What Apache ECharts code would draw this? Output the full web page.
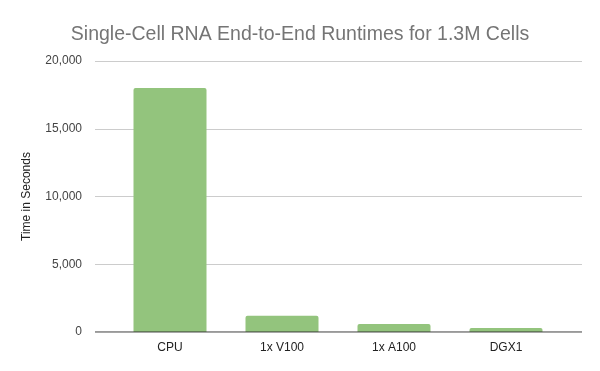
<!DOCTYPE html>
<html><head><meta charset="utf-8">
<script src="https://cdn.jsdelivr.net/npm/echarts@6/dist/echarts.min.js"></script>
<style>html,body{margin:0;padding:0;background:#fff}#c{width:600px;height:371px}</style>
</head><body><div id="c"></div>
<script>
const categories = ["CPU", "1x V100", "1x A100", "DGX1"];
const runtimes = [18000, 1200, 590, 300];
const yTicks = [0, 5000, 10000, 15000, 20000];

const FONT = '"Liberation Sans", Arial, sans-serif';
const chart = echarts.init(document.getElementById('c'));
chart.setOption({
  animation: false,
  title: {
    text: 'Single-Cell RNA End-to-End Runtimes for 1.3M Cells',
    left: 'center', top: 20,
    textStyle: { fontFamily: FONT, fontSize: 19.5, fontWeight: 'normal', color: '#757575' }
  },
  grid: [
    { left: 95, right: 18, top: 61, bottom: 39 },
    { left: 114, right: 38, top: 61, bottom: 39 }
  ],
  xAxis: [
    { type: 'value', gridIndex: 0, min: 0, max: 1, show: false },
    { type: 'category', gridIndex: 1, data: categories,
      axisLine: { show: false }, axisTick: { show: false },
      axisLabel: { color: '#222', fontFamily: FONT, fontSize: 12, margin: 10 } }
  ],
  yAxis: [
    { type: 'value', gridIndex: 0, min: yTicks[0], max: yTicks[yTicks.length-1], interval: 5000,
      name: 'Time in Seconds', nameLocation: 'middle', nameGap: 62,
      nameTextStyle: { fontFamily: FONT, fontSize: 12, color: '#222' },
      axisLine: { show: false }, axisTick: { show: false },
      axisLabel: { color: '#444', fontFamily: FONT, fontSize: 12, margin: 13,
        formatter: v => v.toLocaleString('en-US') },
      splitLine: { lineStyle: { color: '#cccccc' } } },
    { type: 'value', gridIndex: 1, min: yTicks[0], max: yTicks[yTicks.length-1], show: false }
  ],
  series: [
    { type: 'line', xAxisIndex: 0, yAxisIndex: 0, data: [[0,0],[1,0]], symbol: 'none',
      lineStyle: { color: '#333', width: 1 }, z: 5, silent: true },
    { type: 'bar', xAxisIndex: 1, yAxisIndex: 1, data: runtimes, barWidth: 73,
      itemStyle: { color: '#93c47d', borderRadius: [2,2,0,0] } }
  ]
});
</script></body></html>
